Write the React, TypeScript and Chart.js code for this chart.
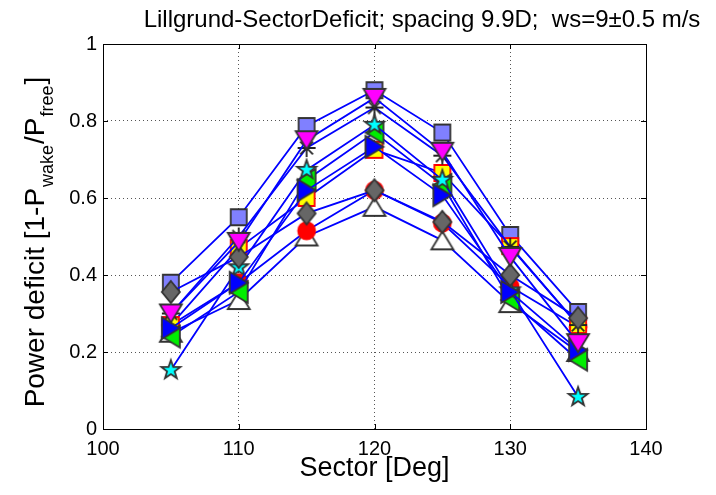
import { useEffect, useRef } from 'react';
import { Chart, registerables } from 'chart.js';

Chart.register(...registerables);

// ---------- data ----------
const sectors = [105, 110, 115, 120, 125, 130, 135];
const xTickValues = [100, 110, 120, 130, 140];
const yTickValues = [0, 0.2, 0.4, 0.6, 0.8, 1];

const titleText = 'Lillgrund-SectorDeficit; spacing 9.9D;  ws=9\u00B10.5 m/s';
const xLabel = 'Sector [Deg]';
const yLabelParts = [
  { t: 'Power deficit [1-P', sub: false },
  { t: 'wake', sub: true },
  { t: '/P', sub: false },
  { t: 'free', sub: true },
  { t: ']', sub: false },
];

const magentaDown = [0.3, 0.486, 0.75, 0.86, 0.72, 0.447, 0.223];
const grayDiamond = [0.356, 0.447, 0.56, 0.62, 0.538, 0.4, 0.288];
const blueRight = [0.262, 0.38, 0.62, 0.733, 0.607, 0.356, 0.205];
const cyanStar = [0.153, 0.42, 0.673, 0.79, 0.647, 0.36, 0.083];
const greenLeft = [0.24, 0.356, 0.647, 0.77, 0.634, 0.335, 0.18];
const blackAsterisk = [0.3, 0.5, 0.73, 0.835, 0.71, 0.473, 0.27];
const yellowSquare = [0.27, 0.47, 0.6, 0.725, 0.665, 0.475, 0.27];
const redCircle = [0.27, 0.38, 0.515, 0.62, 0.535, 0.37, 0.265];
const whiteUp = [0.25, 0.335, 0.5, 0.577, 0.49, 0.327, 0.2];
const lavenderSquare = [0.38, 0.55, 0.787, 0.88, 0.77, 0.504, 0.304];

// first entry is drawn on top
const seriesList = [
  { values: magentaDown, kind: 'triDown', fill: '#ff00ff', edge: '#333333' },
  { values: grayDiamond, kind: 'diamond', fill: '#666666', edge: '#333333' },
  { values: blueRight, kind: 'triRight', fill: '#0000ff', edge: '#333333' },
  { values: cyanStar, kind: 'pentagram', fill: '#00ffff', edge: '#333333' },
  { values: greenLeft, kind: 'triLeft', fill: '#00ee00', edge: '#333333' },
  { values: blackAsterisk, kind: 'asterisk', fill: '#000000', edge: '#222222' },
  { values: yellowSquare, kind: 'square', fill: '#ffff00', edge: '#ff0000' },
  { values: redCircle, kind: 'circle', fill: '#ff0000', edge: '#ff0000' },
  { values: whiteUp, kind: 'triUp', fill: '#ffffff', edge: '#333333' },
  { values: lavenderSquare, kind: 'square', fill: '#8080ff', edge: '#333333' },
];

const FONT = "'Liberation Sans', Arial, Helvetica, sans-serif";

function makeMarker(kind: string, fill: string, edge: string): HTMLCanvasElement {
  const S = 30;
  const c = document.createElement('canvas');
  c.width = S;
  c.height = S;
  const ctx = c.getContext('2d')!;
  ctx.translate(S / 2, S / 2);
  ctx.lineWidth = 1.8;
  ctx.strokeStyle = edge;
  ctx.fillStyle = fill;
  ctx.lineJoin = 'miter';
  ctx.beginPath();
  const poly = (pts: number[][]) => {
    ctx.moveTo(pts[0][0], pts[0][1]);
    for (let i = 1; i < pts.length; i++) ctx.lineTo(pts[i][0], pts[i][1]);
    ctx.closePath();
  };
  switch (kind) {
    case 'square':
      ctx.rect(-8, -8, 16, 16);
      break;
    case 'diamond':
      poly([[0, -11], [9, 0], [0, 11], [-9, 0]]);
      break;
    case 'circle':
      ctx.arc(0, 0, 8.5, 0, Math.PI * 2);
      break;
    case 'triUp':
      poly([[0, -9], [11, 9], [-11, 9]]);
      break;
    case 'triDown':
      poly([[0, 9], [11, -9], [-11, -9]]);
      break;
    case 'triLeft':
      poly([[-9, 0], [9, -11], [9, 11]]);
      break;
    case 'triRight':
      poly([[9, 0], [-9, -11], [-9, 11]]);
      break;
    case 'pentagram': {
      const pts: number[][] = [];
      for (let i = 0; i < 10; i++) {
        const r = i % 2 === 0 ? 10 : 4;
        const a = -Math.PI / 2 + (i * Math.PI) / 5;
        pts.push([r * Math.cos(a), r * Math.sin(a)]);
      }
      poly(pts);
      break;
    }
    case 'asterisk': {
      const r = 9;
      const d = r * Math.SQRT1_2;
      ctx.moveTo(-r, 0); ctx.lineTo(r, 0);
      ctx.moveTo(0, -r); ctx.lineTo(0, r);
      ctx.moveTo(-d, -d); ctx.lineTo(d, d);
      ctx.moveTo(-d, d); ctx.lineTo(d, -d);
      ctx.stroke();
      return c;
    }
  }
  ctx.fill();
  ctx.stroke();
  return c;
}

const framePlugin = {
  id: 'matlabFrame',
  afterDraw(chart: any) {
    const { ctx, chartArea } = chart;
    const { left, right, top, bottom } = chartArea;
    const xs = chart.scales.x;
    const ys = chart.scales.y;
    ctx.save();
    // box
    ctx.strokeStyle = '#000000';
    ctx.lineWidth = 1;
    ctx.strokeRect(Math.round(left) + 0.5, Math.round(top) + 0.5, Math.round(right - left), Math.round(bottom - top));
    // inner ticks
    ctx.beginPath();
    xTickValues.forEach((v) => {
      const px = Math.round(xs.getPixelForValue(v)) + 0.5;
      ctx.moveTo(px, bottom); ctx.lineTo(px, bottom - 5);
      ctx.moveTo(px, top); ctx.lineTo(px, top + 5);
    });
    yTickValues.forEach((v) => {
      const py = Math.round(ys.getPixelForValue(v)) + 0.5;
      ctx.moveTo(left, py); ctx.lineTo(left + 5, py);
      ctx.moveTo(right, py); ctx.lineTo(right - 5, py);
    });
    ctx.stroke();

    ctx.fillStyle = '#000000';
    // title
    ctx.font = `24px ${FONT}`;
    ctx.textAlign = 'center';
    ctx.textBaseline = 'alphabetic';
    ctx.fillText(titleText, 422, 27);
    // x label
    ctx.font = `27px ${FONT}`;
    ctx.fillText(xLabel, (left + right) / 2, 476);
    // y label with subscripts
    ctx.translate(44, 242);
    ctx.rotate(-Math.PI / 2);
    ctx.textAlign = 'left';
    const mainFont = `28px ${FONT}`;
    const subFont = `18px ${FONT}`;
    let total = 0;
    yLabelParts.forEach((p) => {
      ctx.font = p.sub ? subFont : mainFont;
      total += ctx.measureText(p.t).width + (p.sub ? 2 : 0);
    });
    let x = -total / 2;
    yLabelParts.forEach((p) => {
      ctx.font = p.sub ? subFont : mainFont;
      ctx.fillText(p.t, x + (p.sub ? 1 : 0), p.sub ? 9 : 0);
      x += ctx.measureText(p.t).width + (p.sub ? 2 : 0);
    });
    ctx.restore();
  },
};

export default function App() {
  const canvasRef = useRef<HTMLCanvasElement | null>(null);

  useEffect(() => {
    document.body.style.margin = '0';
    const canvas = canvasRef.current;
    if (!canvas) return;

    const datasets = seriesList.map((s) => {
      const marker = makeMarker(s.kind, s.fill, s.edge);
      return {
        data: sectors.map((x, i) => ({ x, y: s.values[i] })),
        showLine: true,
        borderColor: '#0000ff',
        borderWidth: 1.8,
        backgroundColor: s.fill,
        pointStyle: marker as any,
        pointRadius: 10,
        pointHoverRadius: 10,
        tension: 0,
        clip: false as any,
      };
    });

    const tickFont = { family: FONT, size: 20 };

    const chart = new Chart(canvas, {
      type: 'scatter',
      data: { datasets },
      options: {
        animation: false,
        responsive: false,
        devicePixelRatio: 1,
        events: [],
        layout: { padding: { left: 0, right: 70, top: 44, bottom: 0 } },
        plugins: {
          legend: { display: false },
          title: { display: false },
          tooltip: { enabled: false },
        },
        scales: {
          x: {
            type: 'linear',
            min: 100,
            max: 140,
            afterBuildTicks: (scale: any) => {
              scale.ticks = xTickValues.map((v) => ({ value: v }));
            },
            afterFit: (scale: any) => {
              scale.height = 66;
            },
            ticks: {
              font: tickFont,
              color: '#000000',
              padding: 8,
              maxRotation: 0,
              callback: (v: any) => String(v),
            },
            grid: { color: '#555555', lineWidth: 1, drawTicks: false },
            border: { display: false, dash: [1, 3] },
          },
          y: {
            type: 'linear',
            min: 0,
            max: 1,
            afterBuildTicks: (scale: any) => {
              scale.ticks = yTickValues.map((v) => ({ value: v }));
            },
            afterFit: (scale: any) => {
              scale.width = 103;
            },
            ticks: {
              font: tickFont,
              color: '#000000',
              padding: 6,
              callback: (v: any) => String(Math.round(v * 10) / 10),
            },
            grid: { color: '#555555', lineWidth: 1, drawTicks: false },
            border: { display: false, dash: [1, 3] },
          },
        },
      },
      plugins: [framePlugin],
    });

    return () => chart.destroy();
  }, []);

  return (
    <div style={{ position: 'absolute', left: 0, top: 0, width: 716, height: 495, background: '#ffffff' }}>
      <canvas ref={canvasRef} width={716} height={495} style={{ display: 'block', width: 716, height: 495 }} />
    </div>
  );
}
